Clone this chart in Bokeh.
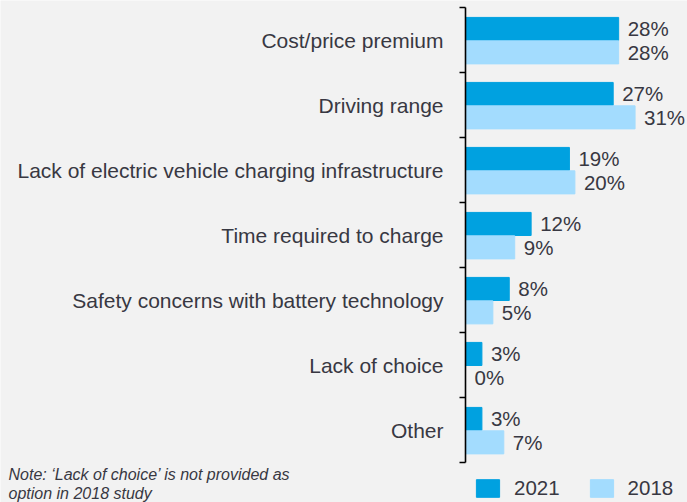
import numpy as np
from bokeh.plotting import figure
from bokeh.models import ColumnDataSource, Range1d, LinearAxis, FixedTicker, Label
from bokeh.transform import dodge
from bokeh.core.properties import value
from bokeh.embed import file_html
from bokeh.resources import INLINE

# ---- data ----
categories = [
    "Cost/price premium",
    "Driving range",
    "Lack of electric vehicle charging infrastructure",
    "Time required to charge",
    "Safety concerns with battery technology",
    "Lack of choice",
    "Other",
]
values_2021 = [28, 27, 19, 12, 8, 3, 3]
values_2018 = [28, 31, 20, 9, 5, 0, 7]
series_names = ["2021", "2018"]
note_text = "Note: \u2018Lack of choice\u2019 is not provided as\noption in 2018 study"

# ---- styles ----
C21 = "#00A1E0"
C18 = "#A3DCFE"
BG = "#F2F2F2"
TXT = "#383842"
FONT = "Liberation Sans"

W, H = 687, 502
LEFT = 465          # pixel position of the category axis
PX_PER_PCT = 5.47
PX_PER_CAT = 65.0
TOP = 7             # pixel position of the first category boundary

n = len(categories)
pos = np.arange(n) + 0.5
src = ColumnDataSource(dict(
    y=pos,
    v21=values_2021,
    v18=values_2018,
    t21=[f"{v}%" for v in values_2021],
    t18=[f"{v}%" for v in values_2018],
))

x_start = -LEFT / PX_PER_PCT
x_end = (W - LEFT) / PX_PER_PCT
y_top = -TOP / PX_PER_CAT
y_bot = (H - TOP) / PX_PER_CAT

p = figure(width=W, height=H, output_backend="svg", toolbar_location=None,
           x_range=Range1d(x_start, x_end), y_range=Range1d(y_bot, y_top),
           x_axis_location=None, y_axis_location=None,
           min_border_left=0, min_border_right=0, min_border_top=0, min_border_bottom=0,
           background_fill_color=BG, border_fill_color=BG, outline_line_color=None)
p.grid.visible = False

yaxis = LinearAxis(
    fixed_location=0,
    ticker=FixedTicker(ticks=[float(v) for v in pos],
                       minor_ticks=[float(v) for v in np.arange(n + 1)]),
    major_label_overrides={float(y): c for y, c in zip(pos, categories)},
    bounds=(0, n),
    axis_line_color="#000000", axis_line_width=1.6,
    major_tick_line_color=None, major_tick_out=0, major_tick_in=0,
    minor_tick_line_color="#000000", minor_tick_line_width=1.6,
    minor_tick_out=6, minor_tick_in=0,
    major_label_standoff=16,
    major_label_text_font=FONT, major_label_text_font_size="21px",
    major_label_text_color=TXT,
)
p.add_layout(yaxis, "left")

off21, off18, bh = -0.17, 0.19, 0.355
p.hbar(y=dodge("y", off21), left=0, right="v21", height=bh, source=src,
       fill_color=C21, line_color=C21, legend_label=series_names[0])
p.hbar(y=dodge("y", off18), left=0, right="v18", height=bh, source=src,
       fill_color=C18, line_color=C18, legend_label=series_names[1])

for col, off in (("21", off21), ("18", off18)):
    p.text(x="v" + col, y=dodge("y", off), text="t" + col, source=src,
           x_offset=9, text_baseline="middle", text_align="left",
           text_font=value(FONT), text_font_size="20.5px", text_color=TXT)

lg = p.legend[0]
lg.location = (LEFT + 8, 2)
lg.orientation = "horizontal"
lg.border_line_color = None
lg.background_fill_alpha = 0
lg.padding = 0
lg.margin = 0
lg.spacing = 27
lg.label_standoff = 12
lg.glyph_width = 29
lg.glyph_height = 22
lg.label_text_font = FONT
lg.label_text_font_size = "20.5px"
lg.label_text_color = TXT

note = Label(x=x_start + 8 / PX_PER_PCT, y=(465 - TOP) / PX_PER_CAT,
             text=note_text,
             text_font=FONT, text_font_style="italic", text_font_size="16px",
             text_color=TXT, text_baseline="top", text_align="left",
             text_line_height=1.15)
p.add_layout(note)

open("out.html", "w").write(file_html(p, INLINE))
